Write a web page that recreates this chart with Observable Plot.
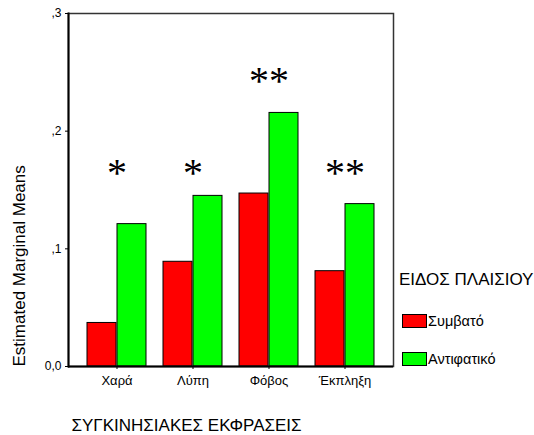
<!DOCTYPE html>
<html>
<head>
<meta charset="utf-8">
<script src="https://cdn.jsdelivr.net/npm/d3@7"></script>
<script src="https://cdn.jsdelivr.net/npm/@observablehq/plot@0.6"></script>
<style>
  body { margin: 0; background: #fff; }
  #wrap { position: relative; width: 534px; height: 435px; font-family: "Liberation Sans", Arial, sans-serif; }
  #legend { position: absolute; left: 399px; top: 271px; color: #000; }
  #legend .title { font-size: 17px; line-height: 18px; margin-bottom: 25px; white-space: nowrap; }
  #legend .item { display: flex; align-items: center; font-size: 14.5px; height: 14px; margin-bottom: 24px; margin-left: 3px; }
  #legend .sw { width: 25px; height: 14px; border: 1px solid #000; box-sizing: border-box; margin-right: 1px; }
</style>
</head>
<body>
<div id="wrap"></div>
<script>
const categories = ["Χαρά", "Λύπη", "Φόβος", "Έκπληξη"];
const seriesNames = ["Συμβατό", "Αντιφατικό"];
const seriesColors = ["#ff0000", "#00ff00"];
const congruent = [0.037, 0.089, 0.147, 0.081];
const incongruent = [0.121, 0.145, 0.2155, 0.138];
const sigLabels = ["*", "*", "**", "**"];
const sigLevels = [0.168, 0.168, 0.246, 0.168];
const yTicks = [0, 0.1, 0.2, 0.3];
const yTickLabels = ["0,0", ",1", ",2", ",3"];
const xTitle = "ΣΥΓΚΙΝΗΣΙΑΚΕΣ ΕΚΦΡΑΣΕΙΣ";
const yTitle = "Estimated Marginal Means";
const legendTitle = "ΕΙΔΟΣ ΠΛΑΙΣΙΟΥ";

const red = categories.map((c, i) => ({cat: c, value: congruent[i]}));
const green = categories.map((c, i) => ({cat: c, value: incongruent[i]}));
const sig = categories.map((c, i) => ({cat: c, label: sigLabels[i], y: sigLevels[i]}));

const chart = Plot.plot({
  width: 534,
  height: 435,
  marginLeft: 68,
  marginRight: 141,
  marginTop: 13,
  marginBottom: 69,
  style: {fontFamily: "Liberation Sans, Arial, sans-serif", background: "#fff", color: "#000"},
  x: {domain: categories, paddingInner: 0.22, paddingOuter: 0.235},
  y: {domain: [0, 0.3]},
  marks: [
    Plot.barY(red, {x: "cat", y: "value", fill: seriesColors[0], stroke: "#000", strokeWidth: 1, insetLeft: 0, insetRight: 30}),
    Plot.barY(green, {x: "cat", y: "value", fill: seriesColors[1], stroke: "#000", strokeWidth: 1, insetLeft: 30, insetRight: 0}),
    Plot.text(sig, {x: "cat", y: "y", text: "label", fontFamily: "Liberation Serif, Times New Roman, serif", fontSize: 40, dy: 4, fill: "#000"}),
    Plot.frame({stroke: "#333", strokeWidth: 1.5}),
    Plot.frame({anchor: "left", stroke: "#000", strokeWidth: 2}),
    Plot.ruleY([0], {stroke: "#000", strokeWidth: 2}),
    Plot.axisY({ticks: yTicks, tickFormat: (d) => yTickLabels[yTicks.indexOf(d)], tickSize: 3, tickPadding: 4, fontSize: 12, label: null}),
    Plot.axisX({tickSize: 3, tickPadding: 6, fontSize: 13, label: null}),
    Plot.text([yTitle], {frameAnchor: "bottom-left", text: d => d, rotate: -90, textAnchor: "start", lineAnchor: "middle", dx: -49, fontSize: 17, fill: "#000"}),
    Plot.text([xTitle], {frameAnchor: "bottom-left", text: d => d, textAnchor: "start", lineAnchor: "middle", dx: 3, dy: 59, fontSize: 17, fill: "#000"})
  ]
});
const wrap = document.getElementById("wrap");
wrap.appendChild(chart);

const legend = document.createElement("div");
legend.id = "legend";
legend.innerHTML = `<div class="title">${legendTitle}</div>` +
  seriesNames.map((n, i) => `<div class="item"><div class="sw" style="background:${seriesColors[i]}"></div>${n}</div>`).join("");
wrap.appendChild(legend);
</script>
</body>
</html>
